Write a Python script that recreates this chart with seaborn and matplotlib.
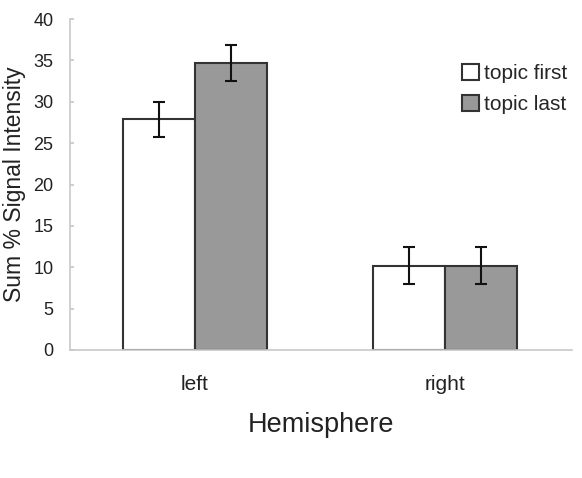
import matplotlib
matplotlib.use("Agg")
import matplotlib.pyplot as plt
import seaborn as sns
import pandas as pd
import numpy as np
from matplotlib.patches import Patch

hemispheres = ["left", "right"]
conditions = ["topic first", "topic last"]
first_means = [27.9, 10.2]
last_means = [34.7, 10.2]
first_err = [2.1, 2.2]
last_err = [2.2, 2.2]

df = pd.DataFrame({
    "Hemisphere": hemispheres * 2,
    "Condition": [conditions[0]] * 2 + [conditions[1]] * 2,
    "value": first_means + last_means,
    "err": first_err + last_err,
})

sns.set_theme(style="white")
plt.rcParams["font.family"] = ["Liberation Sans", "DejaVu Sans"]

fig = plt.figure(figsize=(5.82, 4.78), dpi=100)
ax = fig.add_axes([70/582, (478-350)/478, (572-70)/582, (350-19)/478])

palette = {"topic first": "#ffffff", "topic last": "#999999"}
sns.barplot(data=df, x="Hemisphere", y="value", hue="Condition", order=hemispheres,
            hue_order=conditions, palette=palette, errorbar=None, width=0.576,
            edgecolor="#333333", linewidth=1.5, ax=ax, legend=False, saturation=1)

# error bars at the bar centres
for cont, cond in zip(ax.containers, conditions):
    sub = df[df["Condition"] == cond].set_index("Hemisphere").loc[hemispheres]
    xs = [p.get_x() + p.get_width() / 2 for p in cont.patches]
    ax.errorbar(xs, sub["value"], yerr=sub["err"], fmt="none", ecolor="#111111",
                elinewidth=1.5, capsize=4, capthick=1.5, zorder=5)

ax.set_xlim(-0.5, 1.508)
ax.set_ylim(0, 40)
ax.set_yticks(np.arange(0, 41, 5))
ax.set_yticklabels([str(v) for v in range(0, 41, 5)], fontsize=13, color="#222222")
ax.set_xticks(range(len(hemispheres)))
ax.set_xticklabels(hemispheres, fontsize=15, color="#222222")
ax.tick_params(axis="x", length=0, pad=18)
ax.tick_params(axis="y", direction="in", length=3, color="#c8c8c8", pad=12, left=True)
ax.set_ylabel("Sum % Signal Intensity", fontsize=16.5, color="#222222", labelpad=5)
ax.set_xlabel("Hemisphere", fontsize=19.5, color="#222222", labelpad=13)
for s in ["top", "right"]:
    ax.spines[s].set_visible(False)
for s in ["left", "bottom"]:
    ax.spines[s].set_color("#c8c8c8")
    ax.spines[s].set_linewidth(1.2)

handles = [Patch(facecolor=palette[c], edgecolor="#333333", linewidth=1.5) for c in conditions]
ax.legend(handles, conditions, loc="upper left", bbox_to_anchor=((462-70)/502, (350-64)/331),
          frameon=False, fontsize=15, handlelength=0.8, handleheight=0.8,
          handletextpad=0.25, labelspacing=0.55, borderaxespad=0, borderpad=0)

fig.savefig("out.png", dpi=100)
